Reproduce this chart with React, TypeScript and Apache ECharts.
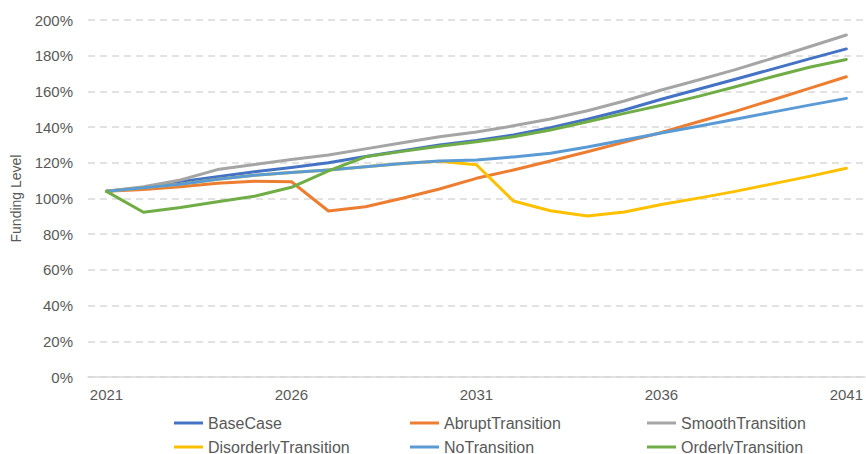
import React, { useEffect, useRef } from "react";
import * as echarts from "echarts";

const years = ["2021","2022","2023","2024","2025","2026","2027","2028","2029","2030","2031","2032","2033","2034","2035","2036","2037","2038","2039","2040","2041"];

const baseCase = [104, 106, 109.4, 112.2, 115, 117.4, 120, 123.5, 126.7, 130, 132.5, 135.6, 139.7, 144.4, 149.6, 155.6, 161.2, 166.8, 172.5, 178.2, 183.8];
const abruptTransition = [104, 105, 106.6, 108.5, 109.7, 109.4, 93, 95.4, 100.1, 105.3, 111.3, 116, 121, 126.2, 131.6, 137, 143, 148.8, 155.2, 161.7, 168.2];
const smoothTransition = [104, 106.6, 110.4, 116.2, 119, 121.8, 124.4, 127.8, 131.2, 134.6, 137.3, 140.7, 144.5, 149.2, 154.6, 160.8, 166.4, 172.2, 178.5, 185, 191.6];
const disorderlyTransition = [104, 106, 108, 110.8, 113, 114.5, 116, 117.8, 119.6, 120.8, 118.9, 98.6, 93.1, 90.2, 92.4, 96.6, 100.2, 104, 108.2, 112.4, 116.9];
const noTransition = [104, 106, 108, 110.8, 113, 114.5, 116, 117.8, 119.6, 121, 121.6, 123.3, 125.3, 128.8, 132.8, 136.7, 140.5, 144.4, 148.4, 152.3, 156.1];
const orderlyTransition = [104, 92.3, 95, 98.2, 101.3, 106.3, 115.5, 123.4, 126.4, 129.3, 131.8, 134.6, 138.4, 143, 147.7, 152.2, 157.2, 162.6, 168.2, 173.5, 177.9];

const seriesNames = ["BaseCase", "AbruptTransition", "SmoothTransition", "DisorderlyTransition", "NoTransition", "OrderlyTransition"];
const seriesData = [baseCase, abruptTransition, smoothTransition, disorderlyTransition, noTransition, orderlyTransition];
const seriesColors = ["#4472C4", "#ED7D31", "#A5A5A5", "#FFC000", "#5B9BD5", "#70AD47"];

const FONT = "'Liberation Sans', Arial, sans-serif";
const TEXT = "#595959";

export default function App() {
  const ref = useRef<HTMLDivElement>(null);
  useEffect(() => {
    if (!ref.current) return;
    const chart = echarts.init(ref.current, null, { renderer: "svg" });
    const legendLefts = [174, 410, 647];
    const legendTops = [415, 439];
    const legends = seriesNames.map((name, i) => ({
      show: true,
      data: [name],
      left: legendLefts[i % 3],
      top: legendTops[Math.floor(i / 3)],
      padding: 0,
      icon: "rect",
      itemWidth: 29,
      itemHeight: 3,
      selectedMode: false,
      textStyle: { color: TEXT, fontSize: 16, fontFamily: FONT, lineHeight: 16 },
    }));
    chart.setOption({
      animation: false,
      textStyle: { fontFamily: FONT },
      grid: { left: 88, right: 0, top: 20, bottom: 77, containLabel: false },
      legend: legends,
      xAxis: {
        type: "category",
        data: years,
        boundaryGap: true,
        axisTick: { show: false },
        axisLine: { show: true, lineStyle: { color: "#d9d9d9", width: 1.5 } },
        axisLabel: { interval: 4, color: TEXT, fontSize: 15, fontFamily: FONT, margin: 10 },
        splitLine: { show: false },
      },
      yAxis: {
        type: "value",
        min: 0,
        max: 200,
        interval: 20,
        name: "Funding Level",
        nameLocation: "middle",
        nameRotate: 90,
        nameGap: 65,
        nameTextStyle: { color: TEXT, fontSize: 14, fontFamily: FONT },
        axisLine: { show: false },
        axisTick: { show: false },
        axisLabel: { formatter: "{value}%", color: TEXT, fontSize: 15, fontFamily: FONT, margin: 15 },
        splitLine: { show: true, lineStyle: { color: "#d9d9d9", type: [7, 5], width: 1.5 } },
      },
      series: seriesNames.map((name, i) => ({
        name,
        type: "line",
        data: seriesData[i],
        symbol: "none",
        smooth: false,
        lineStyle: { color: seriesColors[i], width: 3, cap: "round", join: "round" },
        itemStyle: { color: seriesColors[i] },
        emphasis: { disabled: true },
      })),
    });
    return () => chart.dispose();
  }, []);
  return <div ref={ref} style={{ position: "absolute", left: 0, top: 0, width: 866, height: 454 }} />;
}
